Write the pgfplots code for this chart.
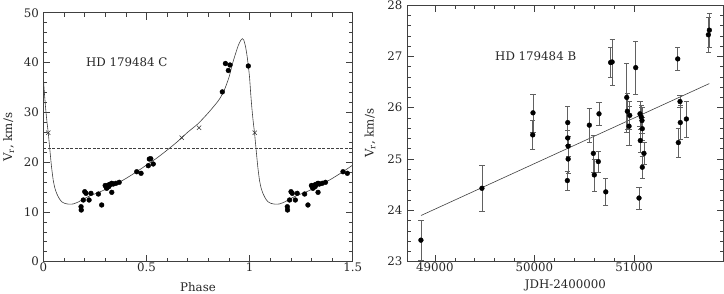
\documentclass[border=0pt]{standalone}
\usepackage{pgfplots}
\pgfplotsset{compat=1.18}
\usepackage{fontspec}
\setmainfont{DejaVu Serif}
\newcommand\ff{\fontsize{11.8pt}{14pt}\selectfont}
\definecolor{ax}{gray}{0.25}
\definecolor{eb}{gray}{0.38}
\pgfplotsset{
  myaxis/.style={
    scale only axis,
    axis line style={ax, line width=0.7pt},
    tick style={ax, line width=0.6pt},
    tick align=inside,
    major tick length=7pt,
    minor tick length=4pt,
    minor x tick num=4,
    minor y tick num=4,
    xtick pos=both, ytick pos=both,
    scaled x ticks=false, scaled y ticks=false,
    tick label style={font=\ff, black!85},
    /pgf/number format/assume math mode=true,
    /pgf/number format/1000 sep={},
    xticklabel style={yshift=2pt},
    yticklabel style={xshift=-1pt},
  }
}
\begin{document}
\begin{tikzpicture}
\useasboundingbox (0,0) rectangle (724pt,293pt);
% ---------------- left panel ----------------
\begin{axis}[myaxis,
  anchor=south west, at={(43.3pt,31.3pt)},
  width=309.4pt, height=249pt,
  xmin=0, xmax=1.5, ymin=0, ymax=50,
  xtick={0,0.5,1,1.5}, xticklabels={0,0.5,1,1.5},
  ytick={0,10,20,30,40,50},
  xlabel={Phase},
  ylabel={V\textsubscript{r}, km/s},
  every axis x label/.style={at={(axis description cs:0.5,0)}, anchor=center, yshift=-25pt, font=\ff, black!85},
  every axis y label/.style={at={(axis description cs:-0.112,0.5)}, anchor=center, rotate=90, font=\ff, black!85},
]
\addplot[black!75, line width=0.6pt, smooth, tension=0.35] coordinates {
(0.000,37.0)(0.006,33.5)(0.012,30.5)(0.018,28.0)(0.024,25.9)(0.032,22.4)(0.040,19.0)
(0.048,16.4)(0.056,14.8)(0.065,13.7)(0.077,12.7)(0.089,12.05)(0.105,11.7)(0.125,11.55)
(0.145,11.6)(0.170,12.0)(0.196,12.6)(0.230,13.3)(0.268,13.9)(0.300,14.5)(0.357,15.7)
(0.400,16.7)(0.454,18.1)(0.500,19.4)(0.550,20.8)(0.600,22.4)(0.650,24.1)(0.700,26.0)
(0.750,27.7)(0.800,29.9)(0.850,32.4)(0.876,34.3)(0.900,37.0)(0.921,40.3)(0.945,43.4)
(0.958,44.5)(0.965,44.8)(0.972,44.5)(0.980,43.3)(0.988,41.3)(0.994,39.3)(1.000,37.0)
(1.006,33.5)(1.012,30.5)(1.018,28.0)(1.024,25.9)(1.032,22.4)(1.040,19.0)
(1.048,16.4)(1.056,14.8)(1.065,13.7)(1.077,12.7)(1.089,12.05)(1.105,11.7)(1.125,11.55)
(1.145,11.6)(1.170,12.0)(1.196,12.6)(1.230,13.3)(1.268,13.9)(1.300,14.5)(1.357,15.7)
(1.400,16.7)(1.454,18.1)(1.500,19.4)
};
\addplot[black!75, dashed, line width=0.5pt, dash pattern=on 3pt off 1.5pt] coordinates {(0,22.8)(1.5,22.8)};
\addplot[only marks, mark=*, mark size=2.4pt, black] coordinates {
(0.183,11.04)(0.184,10.38)(0.194,12.39)(0.201,14.06)(0.207,13.73)(0.222,12.39)(0.231,13.73)
(0.267,13.59)(0.283,11.39)(0.304,15.06)(0.307,14.74)(0.315,15.40)(0.323,15.54)(0.332,15.74)
(0.332,13.93)(0.339,15.60)(0.352,15.74)(0.368,15.94)(0.300,15.3)(0.310,14.9)(0.318,15.1)
(0.453,18.07)(0.474,17.75)(0.509,19.28)(0.514,20.62)(0.521,20.68)(0.533,19.62)
(0.868,34.1)(0.883,39.8)(0.897,38.4)(0.905,39.5)(0.994,39.3)
(1.183,11.04)(1.184,10.38)(1.194,12.39)(1.201,14.06)(1.207,13.73)(1.222,12.39)(1.231,13.73)
(1.267,13.59)(1.283,11.39)(1.304,15.06)(1.307,14.74)(1.315,15.40)(1.323,15.54)(1.332,15.74)
(1.332,13.93)(1.339,15.60)(1.352,15.74)(1.368,15.94)(1.300,15.3)(1.310,14.9)(1.318,15.1)
(1.453,18.07)(1.474,17.75)
};
\addplot[only marks, mark=x, mark size=3pt, black!80, line width=0.6pt] coordinates {
(0.024,25.9)(0.671,24.9)(0.755,26.9)(1.025,25.9)
};
\node[font=\ff, black!85, anchor=west] at (axis cs:0.19,40.0) {HD 179484 C};
\end{axis}
% ---------------- right panel ----------------
\begin{axis}[myaxis,
  anchor=south west, at={(407pt,31.3pt)},
  width=316.7pt, height=256.7pt,
  xmin=48719, xmax=51901, ymin=23, ymax=28,
  xtick={49000,50000,51000},
  ytick={23,24,25,26,27,28},
  xlabel={JDH-2400000},
  ylabel={V\textsubscript{r}, km/s},
  every axis x label/.style={at={(axis description cs:0.5,0)}, anchor=center, yshift=-23.5pt, font=\ff, black!85},
  every axis y label/.style={at={(axis description cs:-0.117,0.5)}, anchor=center, rotate=90, font=\ff, black!85},
]
\addplot[black!75, line width=0.6pt] coordinates {(48860,23.90)(51757,26.47)};
\addplot[only marks, mark=*, mark size=2.4pt, black,
  error bars/.cd, y dir=both, y explicit,
  error bar style={eb, line width=0.7pt},
  error mark options={rotate=90, mark size=2.6pt, eb, line width=0.6pt}]
 table[x=x, y=y, y error=e] {
x y e
48859 23.42 0.39
49472 24.43 0.44
49985 25.90 0.37
49982 25.47 0.29
50334 25.71 0.31
50334 25.41 0.15
50338 25.25 0.20
50338 25.00 0.28
50330 24.58 0.18
50551 25.66 0.33
50591 25.11 0.36
50601 24.69 0.31
50641 24.95 0.20
50648 25.88 0.22
50716 24.36 0.26
50765 26.88 0.29
50780 26.89 0.45
50927 26.20 0.67
50933 25.93 0.35
50957 25.85 0.28
50950 25.64 0.38
51017 26.78 0.52
51060 25.88 0.25
51073 25.82 0.22
51080 25.75 0.25
51083 25.59 0.22
51063 25.36 0.22
51100 25.11 0.22
51083 24.84 0.22
51050 24.24 0.21
51439 26.95 0.22
51445 25.32 0.28
51462 26.12 0.12
51465 25.71 0.33
51526 25.78 0.35
51747 27.42 0.35
51757 27.51 0.33
};
\node[font=\ff, black!85, anchor=west] at (axis cs:49570,27.0) {HD 179484 B};
\end{axis}
\end{tikzpicture}
\end{document}
